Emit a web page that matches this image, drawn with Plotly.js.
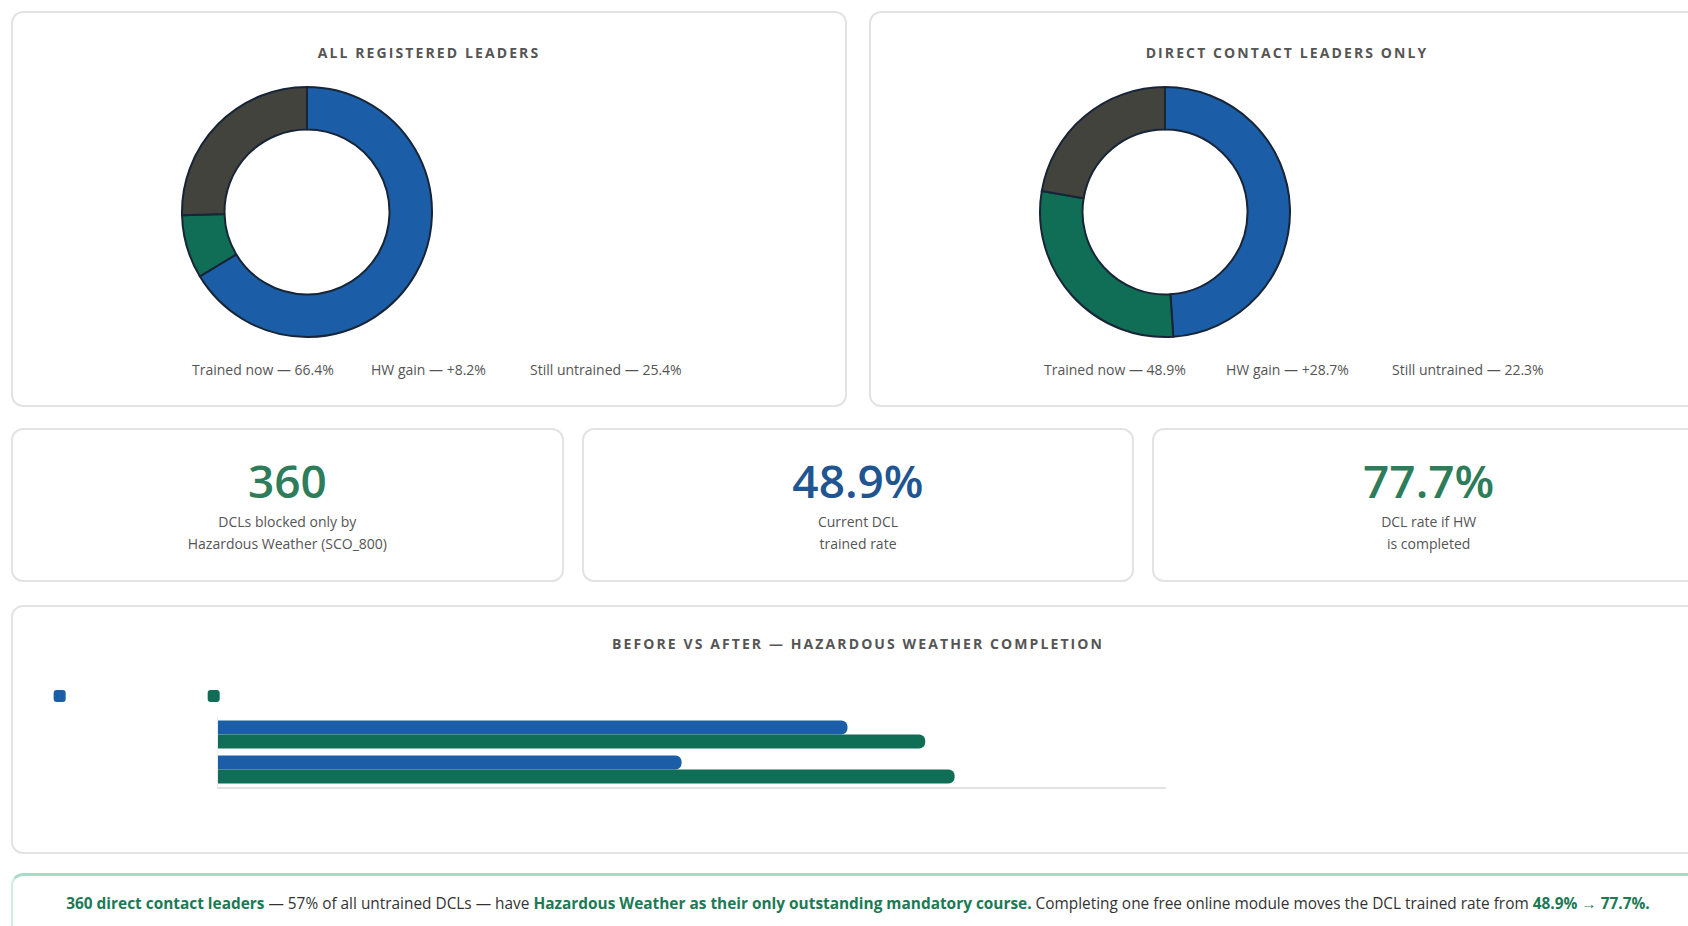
<!DOCTYPE html>
<html>
<head>
<meta charset="utf-8">
<script src="https://cdn.plot.ly/plotly-3.0.1.min.js"></script>
<style>
html,body{margin:0;padding:0;background:#ffffff;width:1688px;height:926px;overflow:hidden;font-family:"Open Sans",sans-serif;}
.card{position:absolute;box-sizing:border-box;border:2px solid #e3e3e3;border-radius:12px;background:#fff;overflow:hidden;}
.ctitle{position:absolute;left:0;right:0;text-align:center;font-weight:700;font-size:14px;letter-spacing:2.1px;color:#555;line-height:16px;z-index:2;white-space:nowrap;}
.plot{position:absolute;left:0;top:0;}
.kpi-num{position:absolute;left:0;right:0;text-align:center;font-size:46px;font-weight:600;line-height:50px;}
.kpi-lab{position:absolute;left:0;right:0;text-align:center;font-size:14px;color:#555;line-height:22px;}
.footer{position:absolute;box-sizing:border-box;border:2px solid #cfeee1;border-top:3px solid #a8dcc6;border-radius:12px;background:#fff;}
.ftext{position:absolute;left:0;right:0;top:18px;text-align:center;font-size:15.4px;line-height:20px;color:#333;white-space:nowrap;}
.ftext b{color:#1c7a55;font-weight:700;}
</style>
</head>
<body>
<div id="root"></div>
<script>
// ---------- DATA ----------
var donutLabels = ["Trained now", "HW gain", "Still untrained"];
var allLeadersValues = [66.4, 8.2, 25.4];
var dclValues = [48.9, 28.7, 22.3];
var donutTitles = ["ALL REGISTERED LEADERS", "DIRECT CONTACT LEADERS ONLY"];

var kpiValues = ["360", "48.9%", "77.7%"];
var kpiLabels = [["DCLs blocked only by", "Hazardous Weather (SCO_800)"], ["Current DCL", "trained rate"], ["DCL rate if HW", "is completed"]];

var barCategories = ["All registered leaders", "Direct contact leaders"];
var barBefore = [66.4, 48.9];
var barAfter = [74.6, 77.7];
var barSeriesNames = ["Trained now", "After HW completion"];
var barTitle = "BEFORE VS AFTER — HAZARDOUS WEATHER COMPLETION";

var footerParts = [
  ["360 direct contact leaders", true],
  [" — 57% of all untrained DCLs — have ", false],
  ["Hazardous Weather as their only outstanding mandatory course.", true],
  [" Completing one free online module moves the DCL trained rate from ", false],
  ["48.9% → 77.7%.", true]
];

// ---------- STYLE ----------
var BLUE = "#1b5ea7", GREEN = "#0f6e55", GRAY = "#43433e", KPI_GREEN = "#2d7d5b", KPI_BLUE = "#215591";
var FONT = "Open Sans, sans-serif";
var cfg = {displayModeBar: false, staticPlot: true};
var root = document.getElementById("root");

function el(cls, css, parent, html) {
  var d = document.createElement("div");
  if (cls) d.className = cls;
  if (css) d.style.cssText = css;
  if (html !== undefined) d.innerHTML = html;
  (parent || root).appendChild(d);
  return d;
}

// ---------- DONUT CARDS ----------
var donutData = [allLeadersValues, dclValues];
var donutLeft = [11, 869];
var legendX = [[177, 356, 515], [171, 353, 519]];
donutData.forEach(function (vals, k) {
  var card = el("card", "left:" + donutLeft[k] + "px;top:11px;width:836px;height:396px;");
  el("ctitle", "top:32px;", card, donutTitles[k]);
  var pd = el("plot", "width:832px;height:392px;", card);
  var W = 832, H = 392, cx = 294, cy = 199, r = 125;
  var ann = donutLabels.map(function (lab, i) {
    var v = vals[i];
    var txt = lab + " — " + (i === 1 ? "+" : "") + v.toFixed(1) + "%";
    return {text: txt, xref: "paper", yref: "paper", x: legendX[k][i] / W, y: (H - 356) / H,
      xanchor: "left", yanchor: "middle", showarrow: false, font: {family: FONT, size: 14, color: "#555"}};
  });
  Plotly.newPlot(pd, [{
    type: "pie", labels: donutLabels, values: vals, hole: 0.66, sort: false, direction: "clockwise",
    rotation: 0, textinfo: "none", showlegend: false,
    marker: {colors: [BLUE, GREEN, GRAY], line: {color: "#172536", width: 2}},
    domain: {x: [(cx - r) / W, (cx + r) / W], y: [(H - cy - r) / H, (H - cy + r) / H]}
  }], {
    width: W, height: H, margin: {l: 0, r: 0, t: 0, b: 0},
    paper_bgcolor: "rgba(0,0,0,0)", annotations: ann, font: {family: FONT}
  }, cfg);
});

// ---------- KPI CARDS ----------
var kpiColors = [KPI_GREEN, KPI_BLUE, KPI_GREEN];
var kw = (1694 - 36) / 3;
kpiValues.forEach(function (v, i) {
  var card = el("card", "left:" + (11 + i * (kw + 18)) + "px;top:428px;width:" + kw + "px;height:154px;");
  el("kpi-num", "top:25px;color:" + kpiColors[i] + ";", card, v);
  el("kpi-lab", "top:81px;", card, kpiLabels[i][0]);
  el("kpi-lab", "top:103px;", card, kpiLabels[i][1]);
});

// ---------- BAR CARD ----------
var bcard = el("card", "left:11px;top:605px;width:1694px;height:249px;");
el("ctitle", "top:29px;", bcard, barTitle);
var bd = el("plot", "width:1690px;height:245px;", bcard);
Plotly.newPlot(bd, [
  {type: "bar", orientation: "h", y: barCategories, x: barBefore, name: barSeriesNames[0], marker: {color: BLUE}},
  {type: "bar", orientation: "h", y: barCategories, x: barAfter, name: barSeriesNames[1], marker: {color: GREEN}}
], {
  width: 1690, height: 245, margin: {l: 205, r: 537, t: 110, b: 65},
  paper_bgcolor: "rgba(0,0,0,0)", plot_bgcolor: "rgba(0,0,0,0)",
  barmode: "group", bargap: 0.2, bargroupgap: 0, barcornerradius: 6,
  font: {family: FONT},
  xaxis: {range: [0, 100], showticklabels: false, showgrid: false, zeroline: false, showline: true, linecolor: "#e2e2e2", linewidth: 2, ticks: ""},
  yaxis: {autorange: "reversed", showticklabels: false, showgrid: false, zeroline: false, showline: true, linecolor: "#ececec", linewidth: 1, ticks: ""},
  showlegend: true,
  legend: {orientation: "h", x: -0.1881, xanchor: "left", y: 1.3, yanchor: "middle", entrywidth: 109,
    font: {family: FONT, size: 12, color: "rgba(255,255,255,0)"}, bgcolor: "rgba(0,0,0,0)"}
}, cfg);

// ---------- FOOTER ----------
var foot = el("footer", "left:11px;top:873px;width:1694px;height:72px;");
var html = footerParts.map(function (p) { return p[1] ? "<b>" + p[0] + "</b>" : p[0]; }).join("");
el("ftext", "", foot, html);
</script>
</body>
</html>
